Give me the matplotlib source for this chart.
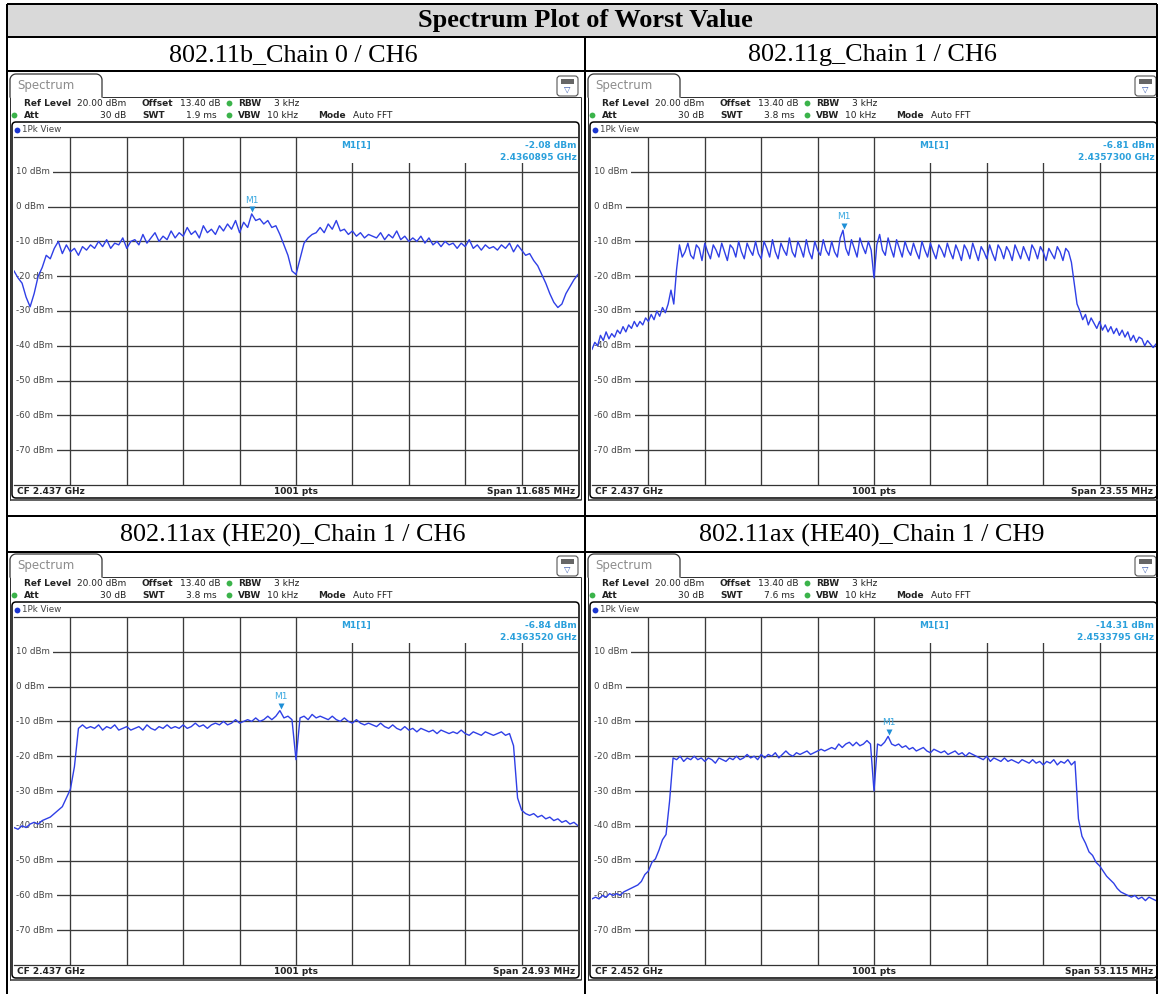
import numpy as np
import matplotlib.pyplot as plt
from matplotlib.patches import Rectangle, FancyBboxPatch

# ---- data ----
titles = ["802.11b_Chain 0 / CH6", "802.11g_Chain 1 / CH6",
          "802.11ax (HE20)_Chain 1 / CH6", "802.11ax (HE40)_Chain 1 / CH9"]
cf_ghz = [2.437, 2.437, 2.437, 2.452]
span_mhz = [11.685, 23.55, 24.93, 53.115]
swt = ["1.9 ms", "3.8 ms", "3.8 ms", "7.6 ms"]
marker_dbm = [-2.08, -6.81, -6.84, -14.31]
marker_ghz = ["2.4360895", "2.4357300", "2.4363520", "2.4533795"]

trace_b = [-18.5, -20.5, -22, -26, -28.8, -25, -20, -17.5, -14, -15,
           -12, -10, -13.5, -11, -13, -12, -14, -11.5, -12.5, -11,
           -12, -10, -11.5, -9.5, -12, -10.5, -11, -9, -12, -10,
           -9.5, -11, -8, -10.5, -9, -7.5, -10, -8.5, -9.5, -7,
           -9, -7.5, -8.5, -6, -8, -7, -9, -5.5, -7.5, -6.5,
           -8, -5.5, -7, -5, -6.5, -4, -7.5, -4.5, -6, -2.1,
           -4, -3.5, -5, -4, -6, -5.5, -8, -11, -14, -18.5,
           -19.5, -15, -10.5, -9, -8, -7.5, -6, -7.5, -5, -6.5,
           -4, -7, -6.5, -8, -7, -8.5, -7.5, -9, -8, -8.5,
           -9, -7.5, -9.5, -8, -9, -7, -9.5, -8.5, -10, -9,
           -10, -8.5, -10.5, -9, -11, -10, -11.5, -10, -11, -10.5,
           -12, -10.5, -11.5, -9.5, -12, -11, -12.5, -11, -12, -11.5,
           -12.5, -11, -12, -10.5, -13, -11, -12.5, -14, -13.5, -15.5,
           -17, -19.5, -22, -25, -27.5, -29, -28, -25, -23, -21, -19.5]

trace_g = [-41, -39, -40, -37, -38.5, -36, -38, -36.5, -37.5, -35.5,
           -36.5, -34.5, -36, -34, -35, -33, -34.5, -33, -34, -32,
           -33, -31, -32.5, -30, -31.5, -29, -30.5, -28, -24, -28,
           -18, -11, -14.5, -13, -10.5, -14, -15, -11, -12, -15.5,
           -10.5, -13, -15, -11, -12.5, -14.5, -10.5, -13, -15.5, -11,
           -12, -14.5, -10, -13, -15, -10.5, -12.5, -14, -10, -13.5,
           -15, -10, -12, -14.5, -9.5, -13, -15, -10.5, -12.5, -14,
           -9, -13, -14.5, -10, -12, -14.5, -9.5, -13, -15, -10,
           -12.5, -14, -9.5, -12.5, -14, -10, -13, -14.5, -9, -6.8,
           -12, -14, -9.5, -12, -14.5, -9, -11.5, -13.5, -10, -12.5,
           -20.5, -11, -8, -12.5, -14, -9, -12, -14.5, -9.5, -12,
           -14.5, -10, -12.5, -14, -10.5, -13, -15, -10, -12.5, -14.5,
           -10.5, -13, -15, -11, -12.5, -14.5, -10.5, -13, -15, -11,
           -13, -15.5, -11, -12.5, -15, -10.5, -13, -15.5, -11.5, -13,
           -15, -11, -13.5, -15.5, -11, -12.5, -15, -11.5, -13, -15.5,
           -11, -13, -15, -11.5, -13.5, -15.5, -11, -12.5, -15, -11.5,
           -13, -15.5, -12, -13.5, -15, -11.5, -13, -15.5, -12, -13,
           -16, -22, -28, -30, -32.5, -31, -34, -32, -33.5, -35,
           -33, -35.5, -34, -36, -34.5, -36.5, -35, -37, -35.5, -37.5,
           -36, -38.5, -37, -39, -37.5, -38, -40, -38.5, -39.5, -40.5, -39.5]

trace_he20 = [-40.5, -41, -40, -40.5, -39.5, -39, -39.5, -38.5, -38, -37.5,
              -36.5, -35.5, -34.5, -32, -29.5, -23, -12, -11, -12, -11.5,
              -12, -11, -12.5, -11.5, -12, -11, -12.5, -12, -11.5, -12.5,
              -12, -11.5, -12.5, -11, -12, -12.5, -11.5, -12, -11, -12,
              -11.5, -12, -11, -12, -11.5, -10.5, -11.5, -11, -12, -11,
              -10.5, -11, -10, -11, -10.5, -9.5, -10.5, -10, -9.5, -10,
              -9, -10, -9.5, -8.5, -9.5, -8.5, -6.9, -9, -8.5, -9.5,
              -21, -9, -8.5, -9.5, -8, -9, -8.5, -9, -9.5, -8.5,
              -9.5, -10, -9, -10, -10.5, -9.5, -10.5, -11, -10.5, -11,
              -11.5, -10.5, -11.5, -12, -11, -12, -12.5, -11.5, -12.5, -12,
              -13, -12, -12.5, -13, -12.5, -13.5, -12.5, -13, -13.5, -13,
              -13.5, -12.5, -13.5, -14, -13, -13.5, -14, -13, -13.5, -14,
              -13.5, -13, -14, -13.5, -17, -32, -35.5, -36.5, -37, -36.5,
              -37.5, -37, -38, -37.5, -38.5, -38, -39, -38.5, -39.5, -39, -40]

trace_he40 = [-61, -60.5, -61, -60, -60.5, -59.5, -60, -59.5, -60, -59,
              -58.5, -58, -57.5, -57, -56, -54, -53, -50.5, -49.5, -47,
              -44, -42.5, -33, -20.5, -21, -20, -21.5, -20.5, -21, -20,
              -21, -20.5, -21.5, -20.5, -21, -22, -20.5, -21, -21.5, -20.5,
              -21, -20, -21, -20.5, -19.5, -20.5, -20, -21, -19.5, -20.5,
              -19.5, -20, -19, -20.5, -19.5, -18.5, -19.5, -20, -19, -19.5,
              -19, -18.5, -19.5, -19, -18.5, -18, -18.5, -18, -17.5, -18,
              -16.5, -17.5, -16.5, -16, -17, -16, -17, -16.5, -15.5, -16.5,
              -30, -16.5, -17, -16, -14.3, -16.5, -17, -16.5, -17.5, -17,
              -18, -17.5, -18.5, -18, -17.5, -18.5, -19, -18, -18.5, -19,
              -18.5, -19.5, -19, -18.5, -19.5, -19, -20, -19, -19.5, -20,
              -20.5, -21, -20, -21.5, -20.5, -21, -21.5, -20.5, -21.5, -21,
              -21.5, -22, -21, -21.5, -22, -21, -22, -21.5, -22.5, -21.5,
              -22, -21, -22.5, -21.5, -22, -21, -22.5, -21.5, -38, -43,
              -45, -47.5, -48.5, -50.5, -51.5, -53, -54.5, -55.5, -56.5, -58,
              -59, -59.5, -60, -60.5, -60, -61, -60.5, -61.5, -60.5, -61, -61.5]

traces = [trace_b, trace_g, trace_he20, trace_he40]
grid_levels = [10, 0, -10, -20, -30, -40, -50, -60, -70]

W, H = 1158, 994
fig = plt.figure(figsize=(W / 100, H / 100), dpi=100)
bg = fig.add_axes([0, 0, 1, 1])
bg.set_xlim(0, W)
bg.set_ylim(H, 0)
bg.axis('off')

SANS = 'DejaVu Sans'
SERIF = 'Liberation Serif'
BLUE = '#2f3fe6'
MK = '#2aa0dc'


def seg(x0, y0, x1, y1, lw=1.0, c='black'):
    bg.plot([x0, x1], [y0, y1], color=c, lw=lw * 0.72, solid_capstyle='butt')


def txt(x, y, s, bold=False, ha='left', size=6.5, color='#222222'):
    bg.text(x, y, s, ha=ha, va='center', fontsize=size, family=SANS,
            fontweight='bold' if bold else 'normal', color=color)


def dot(x, y, c='#3bb34a'):
    bg.plot([x], [y], marker='o', ms=4.2, color=c, mec='none')


# ---- table ----
bg.add_patch(Rectangle((7, 4), 1150, 33, facecolor='#d9d9d9', edgecolor='none'))
bg.text(585, 21, "Spectrum Plot of Worst Value", ha='center', va='center',
        fontsize=19, fontweight='bold', family=SERIF)
for yy in [4, 37, 71, 516, 552]:
    seg(7, yy, 1157, yy, lw=2)
seg(7, 4, 7, 994, lw=2)
seg(585, 37, 585, 994, lw=2)
seg(1157, 4, 1157, 994, lw=2)
bg.text(293, 55, titles[0], ha='center', va='center', fontsize=18.8, family=SERIF)
bg.text(872, 55, titles[1], ha='center', va='center', fontsize=18.8, family=SERIF)
bg.text(293, 535, titles[2], ha='center', va='center', fontsize=18.8, family=SERIF)
bg.text(872, 535, titles[3], ha='center', va='center', fontsize=18.8, family=SERIF)


def draw_panel(k, ox, oy):
    # tab
    r = 6
    xs, ys = [10 + ox], [97 + oy]
    for cx, cy, a0, a1 in [(10 + r, 74 + r, 180, 270), (102 - r, 74 + r, 270, 360)]:
        t = np.radians(np.linspace(a0, a1, 12))
        xs += list(cx + ox + r * np.cos(t))
        ys += list(cy + oy + r * np.sin(t))
    xs.append(102 + ox)
    ys.append(97 + oy)
    bg.plot(xs, ys, color='#333333', lw=0.9)
    txt(17 + ox, 86 + oy, "Spectrum", size=8.5, color='#8c8c8c')
    # outer frame
    seg(102 + ox, 97 + oy, 581 + ox, 97 + oy, c='#333333')
    seg(10 + ox, 97 + oy, 10 + ox, 500 + oy, c='#333333')
    seg(581 + ox, 97 + oy, 581 + ox, 500 + oy, c='#333333')
    seg(10 + ox, 500 + oy, 581 + ox, 500 + oy, lw=1.5, c='#333333')
    # icon
    bg.add_patch(FancyBboxPatch((557 + ox, 76 + oy), 21, 20,
                                boxstyle='round,pad=0,rounding_size=3',
                                facecolor='white', edgecolor='#555555', lw=0.8))
    bg.add_patch(Rectangle((561 + ox, 79 + oy), 13, 5, facecolor='#666666', edgecolor='none'))
    bg.text(567.5 + ox, 89.5 + oy, "▽", ha='center', va='center', fontsize=6,
            color='#3355aa', family=SANS)
    # setting rows
    y1, y2 = 103 + oy, 115 + oy
    txt(24 + ox, y1, "Ref Level", bold=True)
    txt(77 + ox, y1, "20.00 dBm")
    txt(142 + ox, y1, "Offset", bold=True)
    txt(180 + ox, y1, "13.40 dB")
    dot(229 + ox, y1)
    txt(238 + ox, y1, "RBW", bold=True)
    txt(274 + ox, y1, "3 kHz")
    dot(14 + ox, y2)
    txt(24 + ox, y2, "Att", bold=True)
    txt(126 + ox, y2, "30 dB", ha='right')
    txt(142 + ox, y2, "SWT", bold=True)
    txt(217 + ox, y2, swt[k], ha='right')
    dot(229 + ox, y2)
    txt(238 + ox, y2, "VBW", bold=True)
    txt(267 + ox, y2, "10 kHz")
    txt(318 + ox, y2, "Mode", bold=True)
    txt(353 + ox, y2, "Auto FFT")
    # inner frame
    bg.add_patch(FancyBboxPatch((12 + ox, 122 + oy), 567, 376,
                                boxstyle='round,pad=0,rounding_size=4',
                                facecolor='white', edgecolor='black', lw=1.1))
    dot(17 + ox, 130 + oy, c='#1a35d0')
    txt(22 + ox, 130 + oy, "1Pk View", size=6.3, color='#444444')
    # status bar
    txt(17 + ox, 491 + oy, f"CF {cf_ghz[k]:g} GHz", bold=True)
    txt(296 + ox, 491 + oy, "1001 pts", bold=True, ha='center')
    txt(575 + ox, 491 + oy, f"Span {span_mhz[k]:g} MHz", bold=True, ha='right')

    # plot area
    x0, x1, ya, yb = 14 + ox, 578 + ox, 137 + oy, 485 + oy
    ax = fig.add_axes([x0 / W, 1 - yb / H, (x1 - x0) / W, (yb - ya) / H])
    half = span_mhz[k] / 2
    ax.set_xlim(-half, half)
    ax.set_ylim(-80, 20)
    ax.set_xticks([])
    ax.set_yticks([])
    for s in ['left', 'right']:
        ax.spines[s].set_visible(False)
    for s in ['top', 'bottom']:
        ax.spines[s].set_color('#333333')
        ax.spines[s].set_linewidth(0.9)
    for j in range(1, 10):
        ax.axvline(-half + j * span_mhz[k] / 10, color='#3a3a3a', lw=0.95, zorder=1)
    for v in grid_levels:
        ax.axhline(v, color='#3a3a3a', lw=0.95, zorder=1)
        ax.text(0.004, v, f"{v} dBm", transform=ax.get_yaxis_transform(),
                ha='left', va='center', fontsize=6.3, family=SANS, color='#444444',
                zorder=3, bbox=dict(facecolor='white', edgecolor='none', pad=2.4))
    ax.add_patch(Rectangle((0.503, 0.925), 0.497, 0.075, transform=ax.transAxes,
                           facecolor='white', edgecolor='none', zorder=2))
    ax.text(0.58, 0.977, "M1[1]", transform=ax.transAxes, ha='left', va='center',
            fontsize=6.5, fontweight='bold', color=MK, family=SANS, zorder=6)
    ax.text(0.997, 0.977, f"{marker_dbm[k]:.2f} dBm", transform=ax.transAxes,
            ha='right', va='center', fontsize=6.5, fontweight='bold', color=MK,
            family=SANS, zorder=6)
    ax.text(0.997, 0.9425, f"{marker_ghz[k]} GHz", transform=ax.transAxes,
            ha='right', va='center', fontsize=6.5, fontweight='bold', color=MK,
            family=SANS, zorder=6)

    tr = traces[k]
    f = np.linspace(-half, half, len(tr))
    ax.plot(f, tr, color=BLUE, lw=1.0, zorder=4)

    mf = (float(marker_ghz[k]) - cf_ghz[k]) * 1000
    ax.plot([mf], [marker_dbm[k] + 1.3], marker='v', ms=4.5, color='#1e8fd6',
            mec='none', zorder=5)
    ax.text(mf, marker_dbm[k] + 2.6, "M1", ha='center', va='bottom', fontsize=6.5,
            color='#3aa8e0', family=SANS, zorder=5)


draw_panel(0, 0, 0)
draw_panel(1, 578, 0)
draw_panel(2, 0, 480)
draw_panel(3, 578, 480)

fig.savefig("out.png", dpi=100)
